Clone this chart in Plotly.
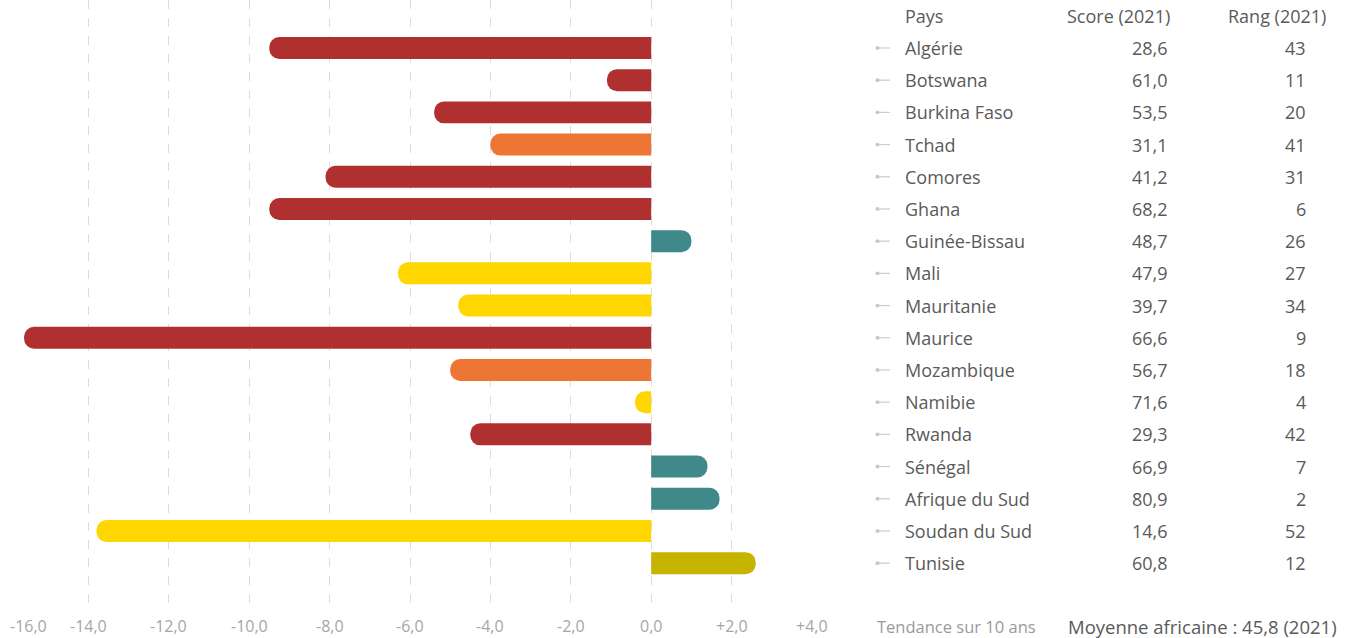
import plotly.graph_objects as go

# ---------------- data ----------------
countries = ["Algérie", "Botswana", "Burkina Faso", "Tchad", "Comores", "Ghana",
             "Guinée-Bissau", "Mali", "Mauritanie", "Maurice", "Mozambique",
             "Namibie", "Rwanda", "Sénégal", "Afrique du Sud", "Soudan du Sud",
             "Tunisie"]
trend_10y = [-9.5, -1.1, -5.4, -4.0, -8.1, -9.5, 1.0, -6.3, -4.8, -15.6, -5.0,
             -0.4, -4.5, 1.4, 1.7, -13.8, 2.6]
trend_class = ["red", "red", "red", "orange", "red", "red", "teal", "yellow",
               "yellow", "red", "orange", "yellow", "red", "teal", "teal",
               "yellow", "olive"]
scores_2021 = ["28,6", "61,0", "53,5", "31,1", "41,2", "68,2", "48,7", "47,9",
               "39,7", "66,6", "56,7", "71,6", "29,3", "66,9", "80,9", "14,6",
               "60,8"]
ranks_2021 = ["43", "11", "20", "41", "31", "6", "26", "27", "34", "9", "18",
              "4", "42", "7", "2", "52", "12"]
tick_values = [-16, -14, -12, -10, -8, -6, -4, -2, 0, 2, 4]
tick_labels = ["-16,0", "-14,0", "-12,0", "-10,0", "-8,0", "-6,0", "-4,0",
               "-2,0", "0,0", "+2,0", "+4,0"]
header = ["Pays", "Score (2021)", "Rang (2021)"]
footer_left = "Tendance sur 10 ans"
footer_right = "Moyenne africaine : 45,8 (2021)"

# ---------------- style ----------------
palette = {"red": "#B0302F", "orange": "#EE7634", "yellow": "#FFD600",
           "teal": "#3F898B", "olive": "#C6B400"}
FONT = "Open Sans"
W, H = 1354, 638
PL, PR = 8, 812        # plot area pixel left/right
PT, PB = 0, 605        # plot area pixel top/bottom


def px(xpix):
    return (xpix - PL) / (PR - PL)


def py(ypix):
    return (PB - ypix) / (PB - PT)


rows = list(range(len(countries)))

fig = go.Figure()
fig.add_trace(go.Bar(
    x=trend_10y, y=rows, orientation="h",
    marker=dict(color=[palette[c] for c in trend_class], cornerradius=11,
                line=dict(width=0)),
    hoverinfo="skip", showlegend=False,
))

annotations = []
# tick labels
for i, (v, lab) in enumerate(zip(tick_values, tick_labels)):
    annotations.append(dict(
        x=v, xref="x", y=py(626), yref="paper", text=lab, showarrow=False,
        xanchor="left" if i == 0 else "center", yanchor="middle",
        font=dict(family=FONT, size=16, color="#a6a6a6")))

# header
hdr_pos = [(903, "left"), (1172, "right"), (1328, "right")]
for txt, (xp, anc) in zip(header, hdr_pos):
    annotations.append(dict(
        x=px(xp), xref="paper", y=-1.0, yref="y", text=txt, showarrow=False,
        xanchor=anc, yanchor="middle",
        font=dict(family=FONT, size=18, color="#5a5a5a")))

shapes = []
for r, name, sc, rk in zip(rows, countries, scores_2021, ranks_2021):
    for txt, xp, anc in [(name, 903, "left"), (sc, 1170, "right"), (rk, 1308, "right")]:
        annotations.append(dict(
            x=px(xp), xref="paper", y=r, yref="y", text=txt, showarrow=False,
            xanchor=anc, yanchor="middle",
            font=dict(family=FONT, size=18, color="#5a5a5a")))
    shapes.append(dict(type="line", xref="paper", yref="y",
                       x0=px(877), x1=px(890), y0=r, y1=r,
                       line=dict(color="#cccccc", width=1.2)))
    shapes.append(dict(type="circle", xref="paper", yref="y",
                       x0=px(875.5), x1=px(879.5), y0=r - 0.06, y1=r + 0.06,
                       fillcolor="#c8c8c8", line=dict(width=0)))

annotations.append(dict(
    x=px(875), xref="paper", y=py(626), yref="paper", text=footer_left,
    showarrow=False, xanchor="left", yanchor="middle",
    font=dict(family=FONT, size=16.5, color="#9a9a9a")))
annotations.append(dict(
    x=px(1066), xref="paper", y=py(626), yref="paper", text=footer_right,
    showarrow=False, xanchor="left", yanchor="middle",
    font=dict(family=FONT, size=18.5, color="#5a5a5a")))

fig.update_layout(
    width=W, height=H,
    margin=dict(l=PL, r=W - PR, t=PT, b=H - PB, pad=0),
    paper_bgcolor="white", plot_bgcolor="white",
    bargap=0.317,
    xaxis=dict(range=[-16, 4], tickvals=tick_values, showticklabels=False,
               showgrid=True, gridcolor="#dcdcdc", griddash="dash",
               gridwidth=1, zeroline=False, showline=False, ticks="",
               fixedrange=True),
    yaxis=dict(range=[17.3, -1.49], showgrid=False, zeroline=False,
               showticklabels=False, showline=False, ticks="",
               fixedrange=True),
    annotations=annotations, shapes=shapes,
    font=dict(family=FONT),
)

fig.write_html("out.html", config={"displayModeBar": False},
               post_script="document.body.style.margin='0';"
                           "document.body.style.overflow='hidden';")
